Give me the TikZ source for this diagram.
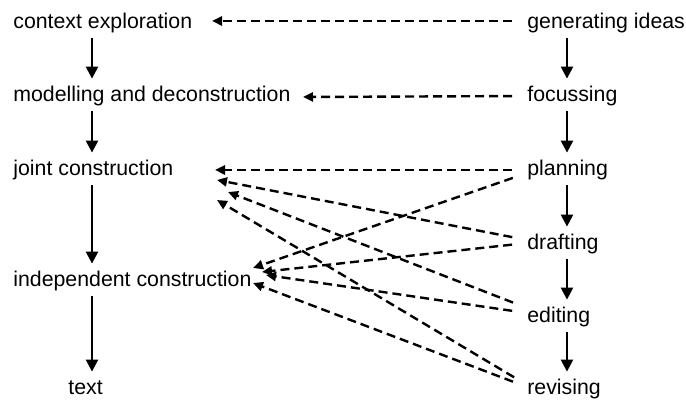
\documentclass[tikz,border=0pt]{standalone}
\usepackage{fontspec}
\setmainfont{Liberation Sans}
\usetikzlibrary{arrows.meta}
\begin{document}
\begin{tikzpicture}[x=0.5pt, y=-0.5pt, font=\fontsize{10.65}{12.8}\selectfont, line join=round,
	stage/.style={anchor=west, inner xsep=0pt, inner ysep=2pt, text height=7.8pt, text depth=2.2pt},
	flow/.style={line width=1.2pt, -{Triangle[length=6pt,width=6pt]}, shorten <=0.5pt, shorten >=1.5pt},
	link/.style={line width=1.2pt, dash pattern=on 4.5pt off 2.5pt, -{Triangle[length=5pt,width=4.5pt]}, shorten <=7.5pt}]
	\useasboundingbox (0,0) rectangle (686,400);
	% teaching cycle
	\node[stage] (ctx) at (13,23) {context exploration};
	\node[stage] (model) at (13,96) {modelling and deconstruction};
	\node[stage] (joint) at (13,170) {joint construction};
	\node[stage] (indep) at (13,281) {independent construction};
	\node[stage] (text) at (68,389) {text};
	% writing process
	\node[stage] (gen) at (527,23) {generating ideas};
	\node[stage] (focus) at (527,96) {focussing};
	\node[stage] (plan) at (527,170) {planning};
	\node[stage] (draft) at (527,244) {drafting};
	\node[stage] (edit) at (527,317) {editing};
	\node[stage] (revise) at (527,389) {revising};
	\coordinate (lx) at (92,0);
	\coordinate (rx) at (567,0);
	\draw[flow] (ctx.south -| lx) -- (model.north -| lx);
	\draw[flow] (model.south -| lx) -- (joint.north -| lx);
	\draw[flow] (joint.south -| lx) -- (indep.north -| lx);
	\draw[flow] (indep.south -| lx) -- (text.north -| lx);
	\draw[flow] (gen.south -| rx) -- (focus.north -| rx);
	\draw[flow] (focus.south -| rx) -- (plan.north -| rx);
	\draw[flow] (plan.south -| rx) -- (draft.north -| rx);
	\draw[flow] (draft.south -| rx) -- (edit.north -| rx);
	\draw[flow] (edit.south -| rx) -- (revise.north -| rx);
	% links between the two
	\coordinate (ctx in) at (212,21);
	\coordinate (model in) at (303,97);
	\coordinate (joint in1) at (215,170);
	\coordinate (joint in2) at (217,180);
	\coordinate (joint in3) at (228,192);
	\coordinate (joint in4) at (217,200);
	\coordinate (indep in1) at (253,268);
	\coordinate (indep in2) at (262,272);
	\coordinate (indep in3) at (266,275);
	\coordinate (indep in4) at (253,283);
	\draw[link] ([yshift=1pt]gen.west) -- (ctx in);
	\draw[link] (focus.west) -- (model in);
	\draw[link] (plan.west) -- (joint in1);
	\draw[link] ([yshift=-1.5pt]plan.west) -- (indep in1);
	\draw[link] ([yshift=2pt]draft.west) -- (joint in2);
	\draw[link] ([yshift=0.5pt]draft.west) -- (indep in2);
	\draw[link] ([yshift=4.5pt]edit.west) -- (joint in3);
	\draw[link] ([yshift=2pt]edit.west) -- (indep in3);
	\draw[link] ([yshift=2pt]revise.west) -- (joint in4);
	\draw[link] ([yshift=1pt]revise.west) -- (indep in4);
\end{tikzpicture}
\end{document}
